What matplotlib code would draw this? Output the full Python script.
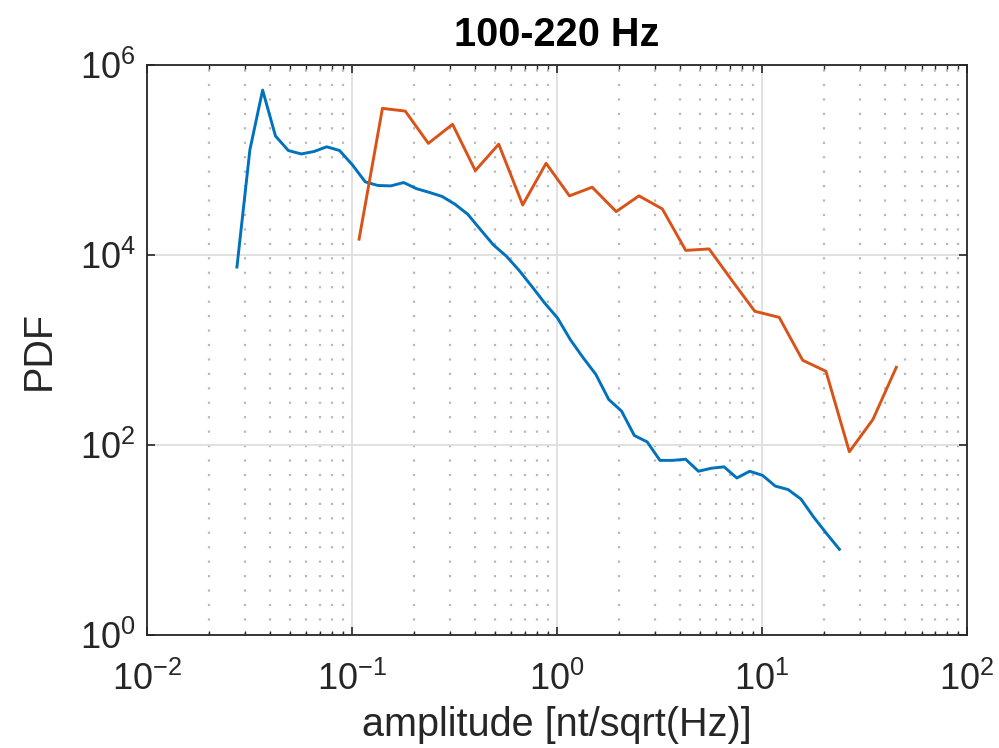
import matplotlib
matplotlib.use("Agg")
import matplotlib.pyplot as plt
from matplotlib.ticker import LogLocator, NullLocator

plt.rcParams['font.family'] = ['Liberation Sans', 'DejaVu Sans']

# Дані
amp_blue = [0.0275, 0.0318, 0.0367, 0.0424, 0.0490, 0.0566, 0.0653, 0.0754,
            0.0871, 0.1006, 0.1161, 0.1341, 0.1549, 0.1789, 0.2065, 0.2385,
            0.2754, 0.3181, 0.3673, 0.4242, 0.4898, 0.5656, 0.6531, 0.7542,
            0.8710, 1.0058, 1.1614, 1.3413, 1.5488, 1.7886, 2.0654, 2.3851,
            2.7542, 3.1806, 3.6728, 4.2413, 4.8978, 5.6558, 6.5313, 7.5423,
            8.7096, 10.058, 11.614, 13.413, 15.488, 17.886, 20.654, 23.851]
pdf_blue = [7480, 1.28e5, 5.45e5, 1.79e5, 1.26e5, 1.16e5, 1.23e5, 1.38e5,
            1.26e5, 8.9e4, 5.9e4, 5.4e4, 5.35e4, 5.8e4, 5.0e4, 4.57e4,
            4.14e4, 3.43e4, 2.69e4, 1.85e4, 1.28e4, 9770, 6920, 4680,
            3130, 2180, 1290, 832, 553, 302, 228, 126,
            108, 69, 69, 71, 53, 57, 59, 45,
            53, 48, 37, 34, 27, 17.4, 11.7, 8.0]

amp_orange = [0.1084, 0.1409, 0.1820, 0.2360, 0.3097, 0.3999, 0.5200, 0.6808,
              0.8851, 1.151, 1.486, 1.945, 2.512, 3.266, 4.246, 5.521,
              7.194, 9.226, 12.13, 15.78, 20.51, 26.67, 34.75, 45.19]
pdf_orange = [1.47e4, 3.50e5, 3.28e5, 1.50e5, 2.38e5, 7.74e4, 1.47e5, 3.37e4,
              9.25e4, 4.20e4, 5.18e4, 2.87e4, 4.20e4, 3.06e4, 1.12e4, 1.16e4,
              5280, 2560, 2210, 782, 598, 85, 186, 659]

ax_color = '#262626'

fig = plt.figure(figsize=(9.99, 7.48), dpi=100)
ax = fig.add_axes([0.147, 0.151, 0.821, 0.762])

ax.plot(amp_blue, pdf_blue, color='#0072BD', lw=2.1)
ax.plot(amp_orange, pdf_orange, color='#D95319', lw=2.1)

ax.set_xscale('log')
ax.set_yscale('log')
ax.set_xlim(1e-2, 1e2)
ax.set_ylim(1e0, 1e6)
ax.set_xticks([1e-2, 1e-1, 1e0, 1e1, 1e2])
ax.set_yticks([1e0, 1e2, 1e4, 1e6])
ax.xaxis.set_minor_locator(LogLocator(base=10, subs=range(2, 10), numticks=20))
ax.yaxis.set_minor_locator(NullLocator())

# Сітка як у MATLAB
ax.grid(True, which='major', color='#dedede', lw=1.3, ls='-')
ax.grid(True, which='minor', axis='x', color='#b8b8b8', lw=1.6, ls=(0, (1, 5.5)))
ax.set_axisbelow(True)

ax.tick_params(which='both', direction='in', top=True, right=True,
               colors=ax_color, labelsize=26)
ax.tick_params(which='major', length=6, width=1.2)
ax.tick_params(which='minor', length=3.2, width=1.0)
ax.tick_params(axis='x', which='major', pad=19)
ax.tick_params(axis='y', which='major', pad=8)
for s in ax.spines.values():
    s.set_color(ax_color)
    s.set_linewidth(1.3)

ax.set_xlabel('amplitude [nt/sqrt(Hz)]', fontsize=28.5, color=ax_color, labelpad=6)
ax.set_ylabel('PDF', fontsize=28.5, color=ax_color, labelpad=16)
ax.set_title('100-220 Hz', fontsize=28.5, fontweight='bold', pad=14)

fig.savefig('out.png', dpi=100)
